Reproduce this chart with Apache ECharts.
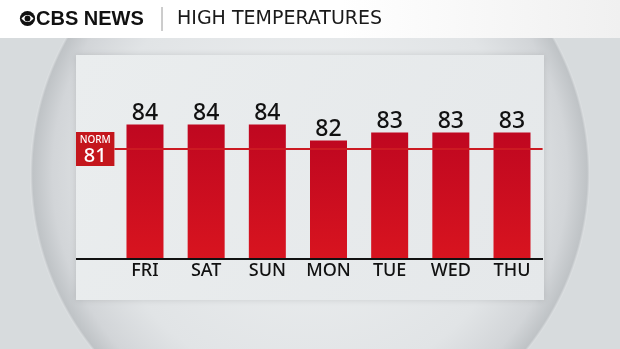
<!DOCTYPE html>
<html><head><meta charset="utf-8">
<script src="https://cdn.jsdelivr.net/npm/echarts@6/dist/echarts.min.js"></script>
<style>html,body{margin:0;padding:0;background:#d7dbdd}#c{width:620px;height:349px}</style>
</head><body><div id="c"></div>
<script>
const days = ['FRI','SAT','SUN','MON','TUE','WED','THU'];
const highs = [84, 84, 84, 82, 83, 83, 83];
const normal = 81;
const title = 'HIGH TEMPERATURES';
const brand = 'CBS NEWS';
const yMin = 67.2, yMax = 87.2;

const chart = echarts.init(document.getElementById('c'), null, {renderer:'canvas'});
const FONT = '"Noto Sans", sans-serif';

// almond (eye) points for logo
const almond = [];
for (let i = 0; i <= 20; i++) { const x = -6 + i*0.6; almond.push([27.5 + x, 18.5 - 3.6*(1-(x/6)*(x/6))]); }
for (let i = 20; i >= 0; i--) { const x = -6 + i*0.6; almond.push([27.5 + x, 18.5 + 3.6*(1-(x/6)*(x/6))]); }

chart.setOption({
  animation: false,
  backgroundColor: '#d7dbdd',
  grid: {left: 114.4, right: 77.4, top: 99, bottom: 90},
  xAxis: {
    type: 'category', data: days,
    axisLine: {show: false}, axisTick: {show: false},
    axisLabel: {color: '#111', fontSize: 18, fontWeight: 500, fontFamily: FONT, margin: 3}
  },
  yAxis: {type: 'value', min: yMin, max: yMax, show: false, splitLine: {show: false}},
  series: [
    {
      type: 'line', data: [], z: 1,
      markLine: {
        silent: true, symbol: 'none',
        lineStyle: {color: '#cc1a22', width: 1.8, type: 'solid'},
        label: {show: false},
        data: [{yAxis: normal}]
      }
    },
    {
      type: 'bar', data: highs, barWidth: 37, z: 3,
      itemStyle: {
        color: new echarts.graphic.LinearGradient(0,0,0,1,[
          {offset:0, color:'#bf0720'},{offset:1, color:'#d8141f'}])
      },
      label: {show: true, position: 'top', distance: 0, color: '#111', fontSize: 23, fontWeight: 500, fontFamily: FONT}
    }
  ]
});

const yBase = chart.convertToPixel({yAxisIndex:0}, yMin);
const yNorm = chart.convertToPixel({yAxisIndex:0}, normal);
const gridLeft = chart.convertToPixel({xAxisIndex:0}, 0) - chart.getModel().getComponent('xAxis',0).axis.getBandWidth()/2;

chart.setOption({
  graphic: [
    {type:'circle', z:-20, silent:true, shape:{cx:310, cy:174, r:280},
      style:{fill: new echarts.graphic.RadialGradient(0.5,0.5,0.5,[
        {offset:0, color:'#eff1f2'},{offset:0.75, color:'#e1e4e6'},
        {offset:0.92, color:'#d2d5d8'},{offset:0.99, color:'#bfc3c6'},{offset:1, color:'#dfe2e4'}])}},
    {type:'rect', z:-15, silent:true, shape:{x:0, y:0, width:620, height:38},
      style:{fill: new echarts.graphic.LinearGradient(0,0,1,0,[
        {offset:0, color:'#ffffff'},{offset:0.55, color:'#ffffff'},{offset:1, color:'#f0f0f0'}])}},
    {type:'rect', z:-10, silent:true, shape:{x:76, y:55, width:468, height:245},
      style:{fill: new echarts.graphic.LinearGradient(0,0,1,1,[
        {offset:0, color:'#eaedee'},{offset:1, color:'#e5e8ea'}]),
        shadowBlur:6, shadowColor:'rgba(0,0,0,0.12)'}},
    {type:'line', z:5, silent:true, shape:{x1:76, y1:yBase, x2:543, y2:yBase},
      style:{stroke:'#111', lineWidth:2}},
    {type:'rect', z:5, silent:true, shape:{x:76, y:yNorm-16.5, width:gridLeft-76, height:34},
      style:{fill:'#c4161c'}},
    {type:'text', z:6, silent:true, x:(76+gridLeft)/2, y:yNorm-8,
      style:{text:'NORM', fill:'#fff', font:'500 10px '+FONT, align:'center', verticalAlign:'middle'}},
    {type:'text', z:6, silent:true, x:(76+gridLeft)/2, y:yNorm+8,
      style:{text:String(normal), fill:'#fff', font:'500 20px '+FONT, align:'center', verticalAlign:'middle'}},
    // logo
    {type:'circle', z:6, silent:true, shape:{cx:27.5, cy:18.5, r:7.6}, style:{fill:'#111'}},
    {type:'polygon', z:7, silent:true, shape:{points: almond}, style:{fill:'#fff'}},
    {type:'circle', z:8, silent:true, shape:{cx:27.5, cy:18.5, r:2.9}, style:{fill:'#111'}},
    {type:'text', z:6, silent:true, x:36, y:19,
      style:{text:brand, fill:'#111', font:'bold 20px "Liberation Sans", Arial, sans-serif', verticalAlign:'middle'}},
    {type:'line', z:6, silent:true, shape:{x1:162, y1:7, x2:162, y2:31}, style:{stroke:'#9a9a9a', lineWidth:1}},
    {type:'text', z:6, silent:true, x:177, y:19,
      style:{text:title, fill:'#1a1a1a', font:'19px "DejaVu Sans", sans-serif', verticalAlign:'middle'}}
  ]
});
</script></body></html>
